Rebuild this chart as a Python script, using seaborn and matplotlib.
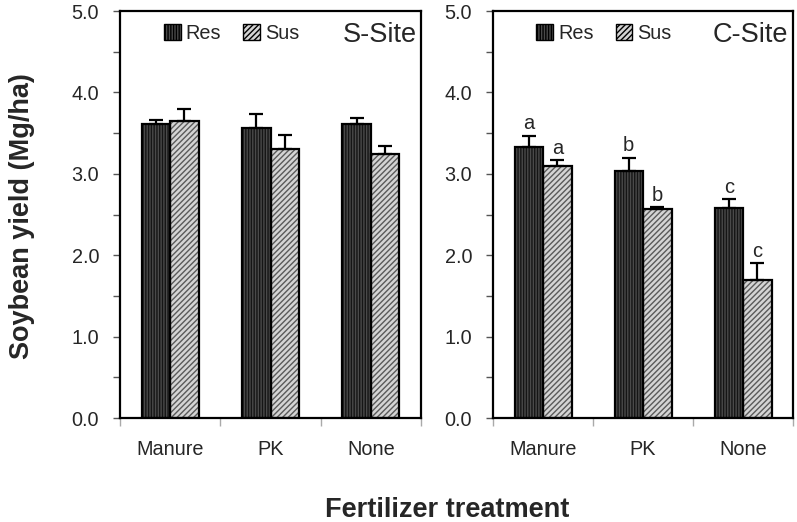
import seaborn as sns
import matplotlib.pyplot as plt
import pandas as pd
from matplotlib.patches import Patch
from matplotlib.ticker import MultipleLocator, FormatStrFormatter

# Values (Mg/ha)
treatments = ['Manure', 'PK', 'None']
cultivars = ['Res', 'Sus']
sites = ['S-Site', 'C-Site']

s_res = [3.61, 3.56, 3.61]
s_res_se = [0.05, 0.17, 0.08]
s_sus = [3.65, 3.30, 3.24]
s_sus_se = [0.15, 0.18, 0.10]

c_res = [3.33, 3.03, 2.58]
c_res_se = [0.14, 0.17, 0.11]
c_sus = [3.10, 2.57, 1.69]
c_sus_se = [0.07, 0.02, 0.21]

c_res_letters = ['a', 'b', 'c']
c_sus_letters = ['a', 'b', 'c']

sns.set_theme(style="white")
plt.rcParams['font.family'] = ['Liberation Sans', 'DejaVu Sans']

fills = {'Res': '#4a4a4a', 'Sus': '#d4d4d4'}
hatch_cols = {'Res': '#151515', 'Sus': '#5a5a5a'}
hatches = {'Res': '||||||', 'Sus': '//////'}

fig = plt.figure(figsize=(7.97, 5.22), dpi=100)
ax1 = fig.add_axes([0.1506, 0.1992, 0.3777, 0.7797])
ax2 = fig.add_axes([0.6186, 0.1992, 0.3764, 0.7797])

panels = [
    (ax1, sites[0], s_res, s_res_se, s_sus, s_sus_se, None, None),
    (ax2, sites[1], c_res, c_res_se, c_sus, c_sus_se, c_res_letters, c_sus_letters),
]

for ax, site, res, res_se, sus, sus_se, res_lab, sus_lab in panels:
    df = pd.DataFrame({
        'Treatment': treatments * 2,
        'Cultivar': ['Res'] * 3 + ['Sus'] * 3,
        'Yield': res + sus,
    })
    # hatched fills
    sns.barplot(data=df, x='Treatment', y='Yield', hue='Cultivar',
                order=treatments, hue_order=cultivars, width=0.57,
                errorbar=None, legend=False, ax=ax, linewidth=0)
    for cv, cont in zip(cultivars, ax.containers):
        for p in cont:
            p.set_facecolor(fills[cv])
            p.set_edgecolor(hatch_cols[cv])
            p.set_hatch(hatches[cv])
            p.set_linewidth(0)
    # black outlines
    sns.barplot(data=df, x='Treatment', y='Yield', hue='Cultivar',
                order=treatments, hue_order=cultivars, width=0.57,
                errorbar=None, legend=False, ax=ax, fill=False,
                linewidth=1.6, palette=['black', 'black'])

    # one-sided error bars and letters
    for cont, vals, se, labs in zip(ax.containers[:2], [res, sus], [res_se, sus_se],
                                    [res_lab, sus_lab]):
        xs = [p.get_x() + p.get_width() / 2 for p in cont]
        ax.errorbar(xs, vals, yerr=[[0] * 3, se], fmt='none', ecolor='black',
                    elinewidth=1.6, capsize=5, capthick=1.6, zorder=3)
        if labs is not None:
            for x, v, e, t in zip(xs, vals, se, labs):
                ax.text(x, v + e + 0.03, t, ha='center', va='bottom', fontsize=14.5)

    ax.set_ylim(0, 5)
    ax.set_xlim(-0.5, 2.5)
    ax.yaxis.set_major_locator(MultipleLocator(1.0))
    ax.yaxis.set_minor_locator(MultipleLocator(0.5))
    ax.yaxis.set_major_formatter(FormatStrFormatter('%.1f'))
    ax.set_xticks([-0.5, 0.5, 1.5, 2.5], minor=True)
    ax.tick_params(axis='y', which='both', left=True, direction='out', length=5,
                   width=1, color='#555555', labelsize=14.3, pad=10)
    ax.tick_params(axis='x', which='major', bottom=True, length=0, labelsize=14.3, pad=16)
    ax.tick_params(axis='x', which='minor', bottom=True, direction='out', length=6,
                   width=1, color='#aaaaaa')
    ax.set_xlabel('')
    ax.set_ylabel('')
    for s in ax.spines.values():
        s.set_color('black')
        s.set_linewidth(1.6)

    handles = [Patch(facecolor=fills[cv], edgecolor='black', hatch=hatches[cv],
                     linewidth=1) for cv in cultivars]
    ax.legend(handles, cultivars, loc='center', bbox_to_anchor=(0.37, 0.945),
              ncol=2, frameon=False, fontsize=14.3, handlelength=0.85,
              handleheight=0.85, handletextpad=0.25, columnspacing=1.1)
    ax.text(0.985, 0.942, site, transform=ax.transAxes, ha='right', va='center',
            fontsize=19.5)

fig.text(0.027, 0.586, 'Soybean yield (Mg/ha)', rotation=90, ha='center',
         va='center', fontsize=19.5, fontweight='bold')
fig.text(0.561, 0.023, 'Fertilizer treatment', ha='center', va='center',
         fontsize=19.5, fontweight='bold')

fig.savefig('out.png', dpi=100)
